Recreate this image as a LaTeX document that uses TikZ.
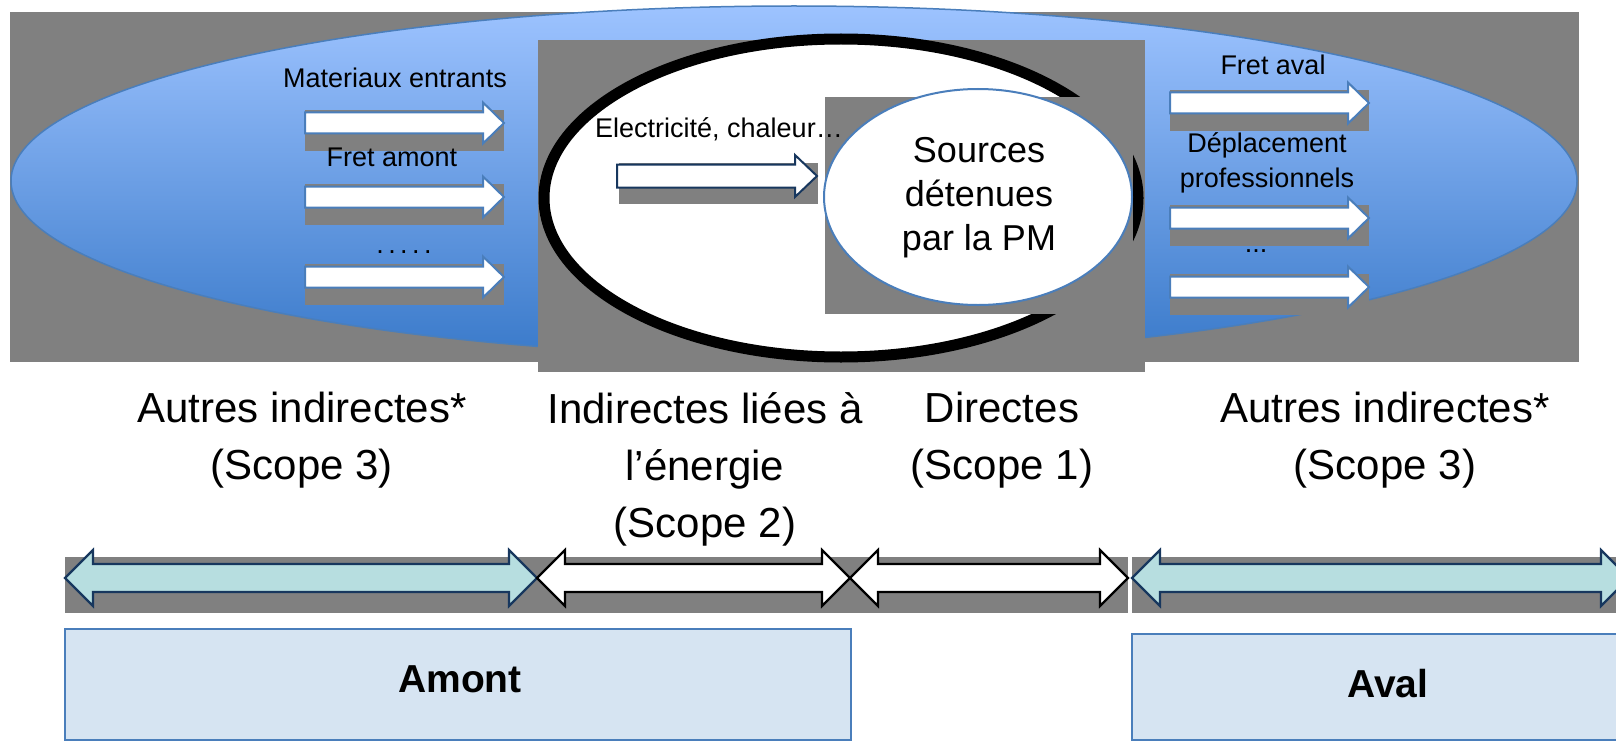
\documentclass[tikz,border=0pt]{standalone}
\usepackage{fontspec}
\setmainfont{Liberation Sans}
\usepackage{xcolor}
\definecolor{ghg_grey}{RGB}{128,128,128}
\definecolor{ghg_sky}{RGB}{157,195,255}
\definecolor{ghg_deep}{RGB}{58,122,202}
\definecolor{ghg_line}{RGB}{74,126,187}
\definecolor{ghg_navy}{RGB}{23,55,94}
\definecolor{ghg_teal}{RGB}{183,222,224}
\definecolor{ghg_paper}{RGB}{214,228,242}

\begin{document}
\begin{tikzpicture}[x=1pt, y=-1pt,
    every node/.style={inner sep=0pt, text=black},
    bigtxt/.style={font=\fontsize{42}{57}\selectfont, align=center, anchor=north},
    smalltxt/.style={font=\fontsize{27}{35}\selectfont, align=center},
    flowarrow/.style={fill=white, draw=ghg_line, line width=2pt, line join=miter},
    spanarrow/.style={line width=2.2pt, line join=miter},
    zonebox/.style={fill=ghg_paper, draw=ghg_line, line width=2.5pt}]

    % Page size: 1616 x 741 (1pt per pixel)
    \useasboundingbox (0,0) rectangle (1616,741);
    \clip (0,0) rectangle (1616,741);

    % Grey backdrop of the value chain
    \fill[ghg_grey] (10,12) rectangle (1579,362);

    % Large value-chain ellipse
    \draw[draw=ghg_line, line width=1.5pt, top color=ghg_sky, bottom color=ghg_deep]
      (794,181) ellipse [x radius=783pt, y radius=175pt];

    % Upstream flows
    \foreach \y in {123,197,277} {
      \fill[ghg_grey] (305,{\y-13}) rectangle (504,{\y+28});
      \draw[flowarrow] (305,{\y-10.5}) -- (483,{\y-10.5}) -- (483,{\y-20.5}) -- (504,\y)
        -- (483,{\y+20.5}) -- (483,{\y+10.5}) -- (305,{\y+10.5}) -- cycle;
    }
    \node[smalltxt, anchor=base] (matIn) at (395,88) {Materiaux entrants};
    \node[smalltxt, anchor=base] (fretUp) at (392,166) {Fret amont};
    \node[smalltxt, anchor=base] (dotsUp) at (404,253)
      {.\hspace{4.4pt}.\hspace{4.4pt}.\hspace{4.4pt}.\hspace{4.4pt}.};

    % Downstream flows
    \foreach \y in {103,218,287} {
      \fill[ghg_grey] (1170,{\y-13}) rectangle (1369,{\y+28});
      \draw[flowarrow] (1170,{\y-10.5}) -- (1348,{\y-10.5}) -- (1348,{\y-20.5}) -- (1369,\y)
        -- (1348,{\y+20.5}) -- (1348,{\y+10.5}) -- (1170,{\y+10.5}) -- cycle;
    }
    \node[smalltxt, anchor=base] (fretDown) at (1273,75) {Fret aval};
    \node[smalltxt, anchor=north] (travel) at (1267,132) {Déplacement\\professionnels};
    \node[smalltxt, anchor=base] (dotsDown) at (1256,252) {...};

    % Energy scope (black ring)
    \fill[ghg_grey] (538,40) rectangle (1145,372);
    \draw[line width=11pt, fill=white] (841,198) ellipse [x radius=297pt, y radius=159pt];
    \fill[ghg_grey] (619,163) rectangle (818,204);
    \draw[flowarrow, draw=ghg_navy] (617,164.5) -- (795,164.5) -- (795,155) -- (817,176)
      -- (795,197) -- (795,187.5) -- (617,187.5) -- cycle;

    % Sources owned by the company
    \fill[ghg_grey] (825,97) rectangle (1133,314);
    \draw[fill=white, draw=ghg_line, line width=2pt] (978,197) ellipse [x radius=154pt, y radius=108pt];
    \node[font=\fontsize{36}{44}\selectfont, align=center, anchor=north] (srcPM) at (979,137)
      {Sources\\détenues\\par la PM};
    \node[smalltxt, anchor=base] (elec) at (719,138) {Electricité, chaleur…};

    % Scope labels
    \node[bigtxt] (lblUp) at (302,392) {Autres indirectes*\\(Scope 3)};
    \node[bigtxt] (lblEnergy) at (705,392) {Indirectes liées à\\l’énergie\\(Scope 2)};
    \node[bigtxt] (lblDirect) at (1002,392) {Directes\\(Scope 1)};
    \node[bigtxt] (lblDown) at (1385,392) {Autres indirectes*\\(Scope 3)};

    % Span arrows under the labels
    \fill[ghg_grey] (65,557) rectangle (1128,613);
    \fill[ghg_grey] (1132,557) rectangle (1616,613);
    \foreach \a/\b/\c/\d in {65/537/ghg_teal/ghg_navy, 537/850/white/black,
                             850/1128/white/black, 1132/1629/ghg_teal/ghg_navy} {
      \draw[spanarrow, fill=\c, draw=\d] (\a,578) -- ({\a+28},550) -- ({\a+28},564)
        -- ({\b-28},564) -- ({\b-28},550) -- (\b,578) -- ({\b-28},606) -- ({\b-28},592)
        -- ({\a+28},592) -- ({\a+28},606) -- cycle;
    }

    % Upstream / downstream boxes
    \draw[zonebox] (65,629) rectangle (851,740);
    \node[font=\bfseries\fontsize{39}{47}\selectfont, anchor=base] (upstream) at (460,692) {Amont};
    \draw[zonebox] (1132,634) rectangle (1640,740);
    \node[font=\bfseries\fontsize{39}{47}\selectfont, anchor=base] (downstream) at (1388,697) {Aval};

\end{tikzpicture}
\end{document}
